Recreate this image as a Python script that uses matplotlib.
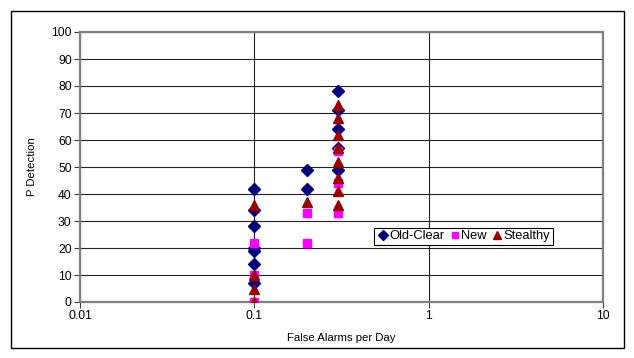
import matplotlib
matplotlib.use("Agg")
import matplotlib.pyplot as plt
from matplotlib.ticker import FixedLocator, FixedFormatter, NullLocator

plt.rcParams['font.family'] = ['Liberation Sans', 'DejaVu Sans']

# Data
old_x = [0.1, 0.1, 0.1, 0.1, 0.1, 0.1, 0.1, 0.2, 0.2, 0.3, 0.3, 0.3, 0.3, 0.3]
old_y = [42, 34, 28, 20, 19, 14, 7, 49, 42, 78, 71, 64, 57, 49]
new_x = [0.1, 0.1, 0.1, 0.2, 0.2, 0.3, 0.3, 0.3]
new_y = [22, 10, 0, 33, 22, 56, 44, 33]
st_x = [0.1, 0.1, 0.1, 0.1, 0.2, 0.3, 0.3, 0.3, 0.3, 0.3, 0.3, 0.3, 0.3]
st_y = [36, 10, 5, 0, 37, 73, 68, 62, 57, 52, 46, 41, 36]

xticks = [0.01, 0.1, 1, 10]
xtick_labels = ['0.01', '0.1', '1', '10']
yticks = list(range(0, 101, 10))

fig = plt.figure(figsize=(6.34, 3.58), dpi=100)
# outer border
fig.patches.append(plt.Rectangle((11/634, 1 - 348/358), (624-11)/634, (348-11)/358,
                                 transform=fig.transFigure, fill=False,
                                 edgecolor='black', linewidth=1.0))
ax = fig.add_axes([80/634, 1 - 302/358, (603-80)/634, (302-32)/358])
ax.set_xscale('log')
ax.set_xlim(0.01, 10)
ax.set_ylim(0, 100)

ax.xaxis.set_major_locator(FixedLocator(xticks))
ax.xaxis.set_major_formatter(FixedFormatter(xtick_labels))
ax.xaxis.set_minor_locator(NullLocator())
ax.set_yticks(yticks)

ax.grid(True, which='major', color='#222222', linewidth=0.8)
ax.set_axisbelow(True)
for s in ax.spines.values():
    s.set_color('#808080')
    s.set_linewidth(1.6)

ax.tick_params(axis='both', labelsize=8.7, direction='out', length=4, width=0.8,
               color='#404040', pad=2)

ax.plot(old_x, old_y, linestyle='none', marker='D', markersize=6,
        color='#000080', label='Old-Clear', zorder=3)
ax.plot(new_x, new_y, linestyle='none', marker='s', markersize=5.5,
        color='#FF00FF', label='New', zorder=3)
ax.plot(st_x, st_y, linestyle='none', marker='^', markersize=7.5,
        color='#990000', label='Stealthy', zorder=4)

ax.set_xlabel('False Alarms per Day', fontsize=8.2, labelpad=8)
ax.set_ylabel('P Detection', fontsize=8.2, labelpad=10)

leg = ax.legend(loc='lower left', bbox_to_anchor=(0.562, 0.211), ncol=3,
                fontsize=9.3, frameon=True, fancybox=False, framealpha=1,
                edgecolor='black', handletextpad=0.0, columnspacing=0.3,
                borderpad=0.2, handlelength=1.0, borderaxespad=0,
                markerscale=0.85)
leg.get_frame().set_linewidth(0.8)

fig.savefig('out.png', dpi=100)
